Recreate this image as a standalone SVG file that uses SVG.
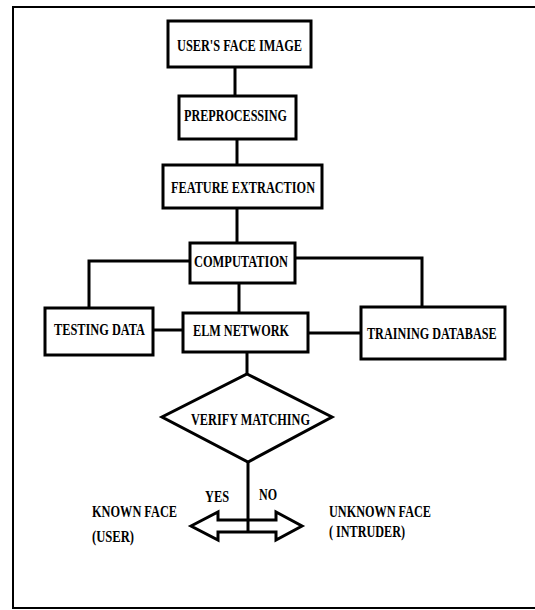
<svg xmlns="http://www.w3.org/2000/svg" width="535" height="610" viewBox="0 0 535 610">
<style>
.box{fill:#fff;stroke:#000;stroke-width:3}
.ln{fill:none;stroke:#000;stroke-width:3}
.t{font-family:"Liberation Serif","Times New Roman",serif;font-weight:bold;font-size:16px;fill:#000}
</style>
<rect width="535" height="610" fill="#fff"/>
<path d="M536,7 H13 V608 H536" fill="none" stroke="#000" stroke-width="2"/>
<g id="connectors">
<line class="ln" x1="235" y1="67" x2="235" y2="96"/>
<line class="ln" x1="237" y1="139" x2="237" y2="165"/>
<line class="ln" x1="237" y1="208" x2="237" y2="243"/>
<path class="ln" d="M190,261 H89 V307"/>
<path class="ln" d="M295,258 H422 V307"/>
<line class="ln" x1="239" y1="283" x2="239" y2="313"/>
<line class="ln" x1="153" y1="330" x2="183" y2="330"/>
<line class="ln" x1="308" y1="333" x2="361" y2="333"/>
<line class="ln" x1="247" y1="352" x2="247" y2="374"/>
<line class="ln" x1="248" y1="462" x2="248" y2="532"/>
</g>
<g id="n1"><rect class="box" x="168" y="21" width="143" height="46"/><text class="t" x="177" y="51" textLength="125" lengthAdjust="spacingAndGlyphs">USER'S FACE IMAGE</text></g>
<g id="n2"><rect class="box" x="179" y="96" width="117" height="43"/><text class="t" x="184" y="121" textLength="103" lengthAdjust="spacingAndGlyphs">PREPROCESSING</text></g>
<g id="n3"><rect class="box" x="163" y="165" width="159" height="43"/><text class="t" x="171" y="193" textLength="144" lengthAdjust="spacingAndGlyphs">FEATURE EXTRACTION</text></g>
<g id="n4"><rect class="box" x="190" y="243" width="105" height="40"/><text class="t" x="194" y="267" textLength="94" lengthAdjust="spacingAndGlyphs">COMPUTATION</text></g>
<g id="n5"><rect class="box" x="45" y="308" width="108" height="47"/><text class="t" x="54" y="335" textLength="91" lengthAdjust="spacingAndGlyphs">TESTING DATA</text></g>
<g id="n6"><rect class="box" x="183" y="313" width="125" height="39"/><text class="t" x="193" y="336" textLength="96" lengthAdjust="spacingAndGlyphs">ELM NETWORK</text></g>
<g id="n7"><rect class="box" x="361" y="307" width="144" height="52"/><text class="t" transform="translate(367 339) scale(0.76 1)" x="0" y="0">TRAINING DATABASE</text></g>
<g id="n8"><polygon class="box" points="247,374 332,417 248,462 162,417"/><text class="t" x="191" y="425" textLength="119" lengthAdjust="spacingAndGlyphs">VERIFY MATCHING</text></g>
<g id="n9"><polygon class="box" points="191,526 218,512 218,520 276,520 276,512 302,526 276,540 276,532 218,532 218,540"/><line class="ln" x1="248" y1="519" x2="248" y2="533"/></g>
<g id="labels">
<text class="t" x="205" y="502" textLength="24" lengthAdjust="spacingAndGlyphs">YES</text>
<text class="t" x="259" y="500" textLength="18" lengthAdjust="spacingAndGlyphs">NO</text>
<text class="t" x="92" y="517" textLength="85" lengthAdjust="spacingAndGlyphs">KNOWN FACE</text>
<text class="t" x="92" y="542" textLength="42" lengthAdjust="spacingAndGlyphs">(USER)</text>
<text class="t" x="329" y="517" textLength="102" lengthAdjust="spacingAndGlyphs">UNKNOWN FACE</text>
<text class="t" x="329" y="537" textLength="76" lengthAdjust="spacingAndGlyphs">( INTRUDER)</text>
</g>
</svg>
